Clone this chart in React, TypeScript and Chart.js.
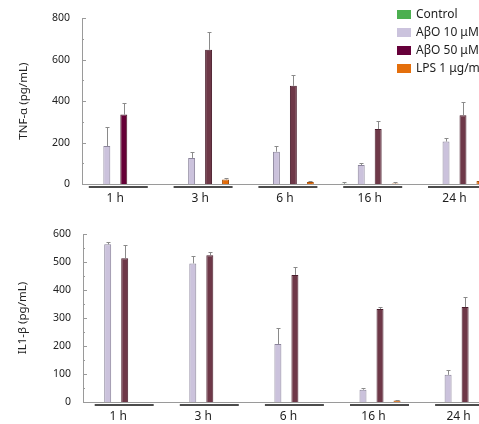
import React, { useEffect, useRef } from 'react';
import { Chart, registerables } from 'chart.js';

Chart.register(...registerables);

// ---------- data ----------
const groups = ['1 h', '3 h', '6 h', '16 h', '24 h'];
const seriesNames = ['Control', 'AβO 10 μM', 'AβO 50 μM', 'LPS 1 μg/mL'];

// TNF-α (pg/mL)
const tnfControl = [0, 0, 0, 1, 0];
const tnfAbo10 = [183, 126, 156, 92, 205];
const tnfAbo50 = [335, 648, 474, 265, 332];
const tnfLps = [0, 22, 10, 2, 15];
const tnfControlErr = [0, 0, 0, 8, 0];
const tnfAbo10Err = [92, 27, 27, 11, 18];
const tnfAbo50Err = [58, 85, 52, 38, 65];
const tnfLpsErr = [0, 6, 6, 8, 0];

// IL1-β (pg/mL)
const il1Control = [0, 0, 0, 0, 0];
const il1Abo10 = [563, 495, 207, 44, 97];
const il1Abo50 = [513, 524, 454, 332, 339];
const il1Lps = [0, 0, 0, 5, 0];
const il1ControlErr = [0, 0, 0, 0, 0];
const il1Abo10Err = [9, 25, 57, 6, 17];
const il1Abo50Err = [48, 11, 27, 7, 36];
const il1LpsErr = [0, 0, 0, 2, 0];

const tnfTicks = { max: 800, step: 200, minor: 100 };
const il1Ticks = { max: 600, step: 100, minor: 50 };

// ---------- styles ----------
const FONT = 'Noto Sans';
const legendColors = ['#4caf50', '#cbc3dd', '#66003a', '#e46f0c'];
const ABO50 = '#6e3848';
const topFills = [
  '#4caf50',
  '#cbc2dc',
  ['#650036', ABO50, ABO50, ABO50, ABO50],
  '#e36c0a',
];
const bottomFills = ['#4caf50', '#cbc2dc', ABO50, '#e36c0a'];
const borders = ['#3a8a3c', '#8c859c', '#4a1d2c', '#a5500c'];

interface PanelProps {
  series: number[][];
  errors: number[][];
  fills: any[];
  title: string;
  ticks: { max: number; step: number; minor: number };
  height: number;
  padTop: number;
  xHeight: number;
  yWidth: number;
  groupPx: number;
  firstCenter: number;
  titlePad: number;
  underlineShift: number;
  labelShift: number;
  showLegend: boolean;
}

function BarPanel(p: PanelProps) {
  const ref = useRef<HTMLCanvasElement>(null);
  useEffect(() => {
    const canvas = ref.current!;
    const width = 479;
    const plotWidth = width - p.yWidth;
    const xMin = -(p.firstCenter - p.yWidth) / p.groupPx;
    const xMax = xMin + plotWidth / p.groupPx;

    const datasets = p.series.map((s, d) => ({
      label: seriesNames[d],
      data: s.map((v, i) => ({ x: i, y: v })),
      backgroundColor: p.fills[d],
      borderColor: borders[d],
      borderWidth: 1,
      barPercentage: 0.41,
      categoryPercentage: 0.8,
    }));

    const errorPlugin = {
      id: 'errBars',
      afterDatasetsDraw(chart: any) {
        const ctx = chart.ctx;
        const y = chart.scales.y;
        ctx.save();
        ctx.strokeStyle = '#8a8a8a';
        ctx.lineWidth = 1;
        p.series.forEach((s, d) => {
          const meta = chart.getDatasetMeta(d);
          meta.data.forEach((el: any, i: number) => {
            const e = p.errors[d][i];
            if (!e) return;
            const x = Math.round(el.x) + 0.5;
            const top = Math.round(y.getPixelForValue(s[i] + e)) + 0.5;
            ctx.beginPath();
            ctx.moveTo(x, el.y);
            ctx.lineTo(x, top);
            ctx.moveTo(x - 2, top);
            ctx.lineTo(x + 2, top);
            ctx.stroke();
          });
        });
        ctx.restore();
      },
    };

    const axisDecor = {
      id: 'axisDecor',
      afterDraw(chart: any) {
        const ctx = chart.ctx;
        const x = chart.scales.x;
        const y = chart.scales.y;
        const area = chart.chartArea;
        ctx.save();
        // inner y ticks
        ctx.strokeStyle = '#9a9a9a';
        ctx.lineWidth = 1;
        for (let v = p.ticks.minor; v <= p.ticks.max; v += p.ticks.minor) {
          const py = Math.round(y.getPixelForValue(v)) + 0.5;
          const len = v % p.ticks.step === 0 ? 4 : 2;
          ctx.beginPath();
          ctx.moveTo(area.left, py);
          ctx.lineTo(area.left + len, py);
          ctx.stroke();
        }
        // group underlines and labels
        ctx.strokeStyle = '#111';
        ctx.lineWidth = 1.3;
        ctx.fillStyle = '#1e1e1e';
        ctx.font = `12px "${FONT}"`;
        ctx.textAlign = 'center';
        ctx.textBaseline = 'middle';
        groups.forEach((g, i) => {
          const cx = x.getPixelForValue(i);
          const uy = area.bottom + 3;
          ctx.beginPath();
          ctx.moveTo(cx + p.underlineShift - 29.5, uy);
          ctx.lineTo(cx + p.underlineShift + 29.5, uy);
          ctx.stroke();
          ctx.fillText(g, cx + p.labelShift, area.bottom + 15);
        });
        // legend
        if (p.showLegend) {
          ctx.textAlign = 'left';
          ctx.font = `12px "${FONT}"`;
          chart.data.datasets.forEach((ds: any, d: number) => {
            const cy = 14.5 + d * 18;
            ctx.fillStyle = legendColors[d];
            ctx.fillRect(397, cy - 4.5, 14, 9);
            ctx.fillStyle = '#1e1e1e';
            ctx.fillText(ds.label, 416, cy);
          });
        }
        ctx.restore();
      },
    };

    const chart = new Chart(canvas, {
      type: 'bar',
      data: { datasets: datasets as any },
      options: {
        responsive: false,
        animation: false,
        layout: { padding: { top: p.padTop, left: 0, right: 0, bottom: 0 } },
        plugins: { legend: { display: false }, tooltip: { enabled: false } },
        scales: {
          x: {
            type: 'linear',
            min: xMin,
            max: xMax,
            offset: false,
            grid: { display: false, drawTicks: false },
            border: { display: true, color: '#9a9a9a', width: 1 },
            ticks: { display: false },
            afterBuildTicks: (s: any) => {
              s.ticks = groups.map((_, i) => ({ value: i }));
            },
            afterFit: (s: any) => {
              s.height = p.xHeight;
            },
          },
          y: {
            min: 0,
            max: p.ticks.max,
            ticks: {
              stepSize: p.ticks.step,
              padding: 12,
              color: '#222',
              font: { family: FONT, size: 10.5 },
            },
            grid: { display: false, drawTicks: false },
            border: { display: true, color: '#9a9a9a', width: 1 },
            title: {
              display: true,
              text: p.title,
              color: '#222',
              font: { family: FONT, size: 11.5 },
              padding: { top: p.titlePad, bottom: 0 },
            },
            afterFit: (s: any) => {
              s.width = p.yWidth;
            },
          },
        } as any,
      },
      plugins: [errorPlugin, axisDecor],
    });
    return () => chart.destroy();
  }, []);
  return (
    <canvas
      ref={ref}
      width={479}
      height={p.height}
      style={{ display: 'block', width: 479, height: p.height }}
    />
  );
}

export default function App() {
  return (
    <div
      style={{
        position: 'fixed',
        left: 0,
        top: 0,
        width: 479,
        height: 424,
        overflow: 'hidden',
        background: '#fff',
      }}
    >
      <BarPanel
        series={[tnfControl, tnfAbo10, tnfAbo50, tnfLps]}
        errors={[tnfControlErr, tnfAbo10Err, tnfAbo50Err, tnfLpsErr]}
        fills={topFills}
        title="TNF-α (pg/mL)"
        ticks={tnfTicks}
        height={212}
        padTop={15}
        xHeight={28}
        yWidth={82}
        groupPx={84.8}
        firstCenter={115.3}
        titlePad={16.4}
        underlineShift={3}
        labelShift={0}
        showLegend={true}
      />
      <BarPanel
        series={[il1Control, il1Abo10, il1Abo50, il1Lps]}
        errors={[il1ControlErr, il1Abo10Err, il1Abo50Err, il1LpsErr]}
        fills={bottomFills}
        title="IL1-β (pg/mL)"
        ticks={il1Ticks}
        height={212}
        padTop={22}
        xHeight={22}
        yWidth={83}
        groupPx={85.1}
        firstCenter={116.2}
        titlePad={15.6}
        underlineShift={8}
        labelShift={2}
        showLegend={false}
      />
    </div>
  );
}
